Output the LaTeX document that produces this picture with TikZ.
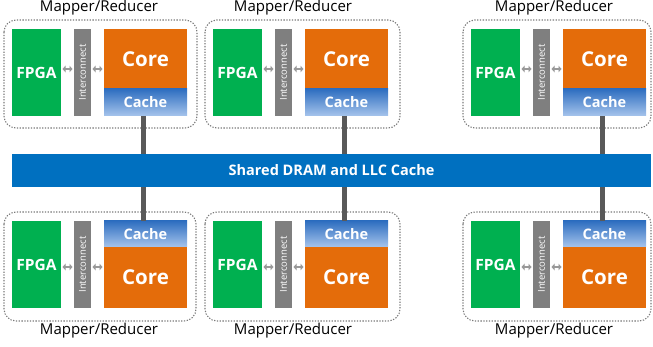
\documentclass[tikz,border=0pt]{standalone}
\usepackage{fontspec}
\setmainfont{Open Sans}
\usetikzlibrary{arrows.meta, positioning, calc}
\definecolor{fpgagreen}{HTML}{00B050}
\definecolor{coreorange}{HTML}{E46C0A}
\definecolor{icgray}{HTML}{7F7F7F}
\definecolor{busblue}{HTML}{0070C0}
\definecolor{wiregray}{HTML}{595959}
\definecolor{cachetop}{HTML}{2E6EC0}
\definecolor{cachebot}{HTML}{A6C4EC}

\begin{document}
\begin{tikzpicture}[x=1pt, y=-1pt,
  modbox/.style={draw=gray!95!black, line width=1.1pt, dash pattern=on 1.3pt off 1.5pt, rounded corners=12pt},
  blk/.style={inner sep=0pt, outer sep=0pt, text=white},
  fpga/.style={blk, fill=fpgagreen, minimum width=49pt, minimum height=87pt, font=\fontsize{15.5}{17}\selectfont\bfseries},
  icbar/.style={blk, fill=icgray, minimum width=17pt, minimum height=87pt},
  core/.style={blk, fill=coreorange, minimum width=83pt, font=\fontsize{20.5}{23}\selectfont\bfseries},
  cache/.style={blk, minimum width=83pt, font=\fontsize{14.5}{16}\selectfont\bfseries, top color=cachetop, bottom color=cachebot},
  lbl/.style={font=\fontsize{15}{17}\selectfont, inner sep=0pt},
  link/.style={{Triangle[length=3pt,width=6.5pt]}-{Triangle[length=3pt,width=6.5pt]}, draw=gray!80, line width=2.2pt, shorten <=1.5pt, shorten >=1.5pt},
  wire/.style={draw=wiregray, line width=5pt}
]
\useasboundingbox (0,0) rectangle (653,347);
% Shared bus
\node[blk, fill=busblue, minimum width=639pt, minimum height=33pt, font=\fontsize{14.5}{16}\selectfont\bfseries] (bus) at (331.5,170.5) {Shared DRAM and LLC Cache};
% Top row
\foreach \i/\dx/\bx/\lx in {1/0/197/99, 2/201/400/293, 3/459/651/554} {
  \draw[modbox] (4+\dx,20) rectangle (\bx,128);
  \node[lbl] (lbl-t\i) at (\lx,8) {Mapper/Reducer};
  \node[fpga] (fpga-t\i) at (36.5+\dx,72.5) {FPGA};
  \node[icbar] (ic-t\i) at (82.5+\dx,72.5) {\rotatebox{90}{\fontsize{9.5}{10}\selectfont Interconnect}};
  \node[core, minimum height=60pt] (core-t\i) at (145.5+\dx,59) {Core};
  \node[cache, minimum height=27pt, below=0pt of core-t\i] (cache-t\i) {Cache};
  \draw[link] ([yshift=3.5pt]fpga-t\i.east) -- ([yshift=3.5pt]ic-t\i.west);
  \draw[link] ([yshift=3.5pt]ic-t\i.east) -- ([yshift=3.5pt]ic-t\i.east -| core-t\i.west);
  \draw[wire] ([xshift=-2pt]cache-t\i.south) -- ([xshift=-2pt]cache-t\i.south |- bus.north);
}
% Bottom row
\foreach \i/\dx/\bx/\lx in {1/0/196/99, 2/201/400/293, 3/459/651/554} {
  \draw[modbox] (4+\dx,212) rectangle (\bx,321);
  \node[lbl] (lbl-b\i) at (\lx,331) {Mapper/Reducer};
  \node[fpga] (fpga-b\i) at (36.5+\dx,264.5) {FPGA};
  \node[icbar] (ic-b\i) at (82.5+\dx,264.5) {\rotatebox{90}{\fontsize{9.5}{10}\selectfont Interconnect}};
  \node[core, minimum height=61pt] (core-b\i) at (145.5+\dx,277.5) {Core};
  \node[cache, minimum height=26pt, above=0pt of core-b\i] (cache-b\i) {Cache};
  \draw[link] ([yshift=-2.5pt]fpga-b\i.east) -- ([yshift=-2.5pt]ic-b\i.west);
  \draw[link] ([yshift=-2.5pt]ic-b\i.east) -- ([yshift=-2.5pt]ic-b\i.east -| core-b\i.west);
  \draw[wire] ([xshift=-2pt]cache-b\i.north) -- ([xshift=-2pt]cache-b\i.north |- bus.south);
}
\end{tikzpicture}
\end{document}
